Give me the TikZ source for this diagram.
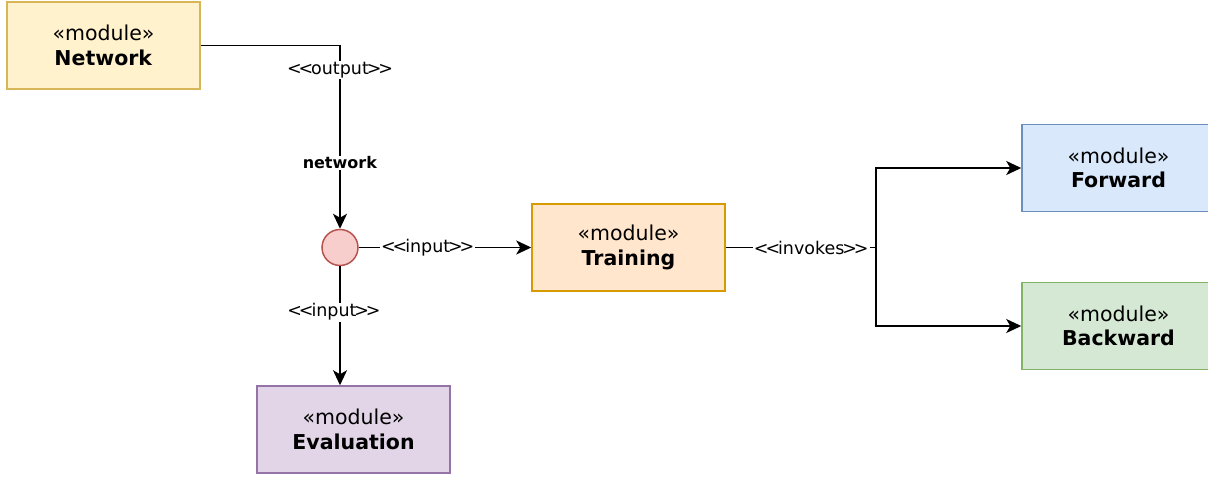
\documentclass[tikz,border=0pt]{standalone}
\usepackage{fontspec}
\setmainfont{DejaVu Sans}
\usetikzlibrary{arrows.meta}

\definecolor{netfill}{HTML}{FFF2CC}\definecolor{netdraw}{HTML}{D6B656}
\definecolor{trnfill}{HTML}{FFE6CC}\definecolor{trndraw}{HTML}{D79B00}
\definecolor{evlfill}{HTML}{E1D5E7}\definecolor{evldraw}{HTML}{9673A6}
\definecolor{fwdfill}{HTML}{DAE8FC}\definecolor{fwddraw}{HTML}{6C8EBF}
\definecolor{bwdfill}{HTML}{D5E8D4}\definecolor{bwddraw}{HTML}{82B366}
\definecolor{jncfill}{HTML}{F8CECC}\definecolor{jncdraw}{HTML}{B85450}

% tightly set angle brackets for stereotype labels (no guillemet ligature)
\newcommand{\stereo}[1]{{<}\kern-0.18em{<}\kern-0.12em#1\kern-0.12em{>}\kern-0.18em{>}}

\tikzset{
  module/.style={draw, line width=1.5pt, minimum width=193pt, minimum height=87pt,
    inner sep=0pt, align=center, font=\fontsize{20.5}{24.5}\selectfont},
  junction/.style={circle, draw=jncdraw, fill=jncfill, line width=1.5pt,
    minimum size=36pt, inner sep=0pt},
  wire/.style={line width=1.8pt, draw=black},
  flow/.style={wire, -{Stealth[length=15pt, width=14pt, inset=4pt]}},
  lbl/.style={fill=white, inner sep=1pt, font=\fontsize{17.5}{20}\selectfont},
}

\begin{document}
\begin{tikzpicture}[x=1pt, y=-1pt]
  \useasboundingbox (0,0) rectangle (1208,477);
  \clip (0,0) rectangle (1208,477);

  % modules
  \node[module, draw=netdraw, fill=netfill] (net) at (103.5,45.5) {«module»\\\textbf{Network}};
  \node[module, draw=trndraw, fill=trnfill] (trn) at (628.5,247.5) {«module»\\\textbf{Training}};
  \node[module, draw=evldraw, fill=evlfill] (evl) at (353.5,429.5) {«module»\\\textbf{Evaluation}};
  \node[module, draw=fwddraw, fill=fwdfill] (fwd) at (1118.5,168) {«module»\\\textbf{Forward}};
  \node[module, draw=bwddraw, fill=bwdfill] (bwd) at (1118.5,326) {«module»\\\textbf{Backward}};

  % junction point
  \node[junction] (jnc) at (340,247.5) {};

  % network output to the junction
  \draw[flow] (net.east) -| (jnc.north)
    node[lbl, pos=0.568] {\stereo{output}}
    node[lbl, pos=0.82, font=\fontsize{16}{18}\selectfont] {\textbf{network}};

  % junction feeds training and evaluation
  \draw[flow] (jnc.east) -- node[lbl, pos=0.4] {\stereo{input}} (trn.west);
  \draw[flow] (jnc.south) -- node[lbl, pos=0.385, xshift=-6pt] {\stereo{input}} (jnc.south |- evl.north);

  % training invokes forward and backward
  \coordinate (split) at ([xshift=150pt]trn.east);
  \draw[wire] (trn.east) -- node[lbl, pos=0.57] {\stereo{invokes}} (split);
  \draw[flow] (split) |- (fwd.west);
  \draw[flow] (split) |- (bwd.west);
\end{tikzpicture}
\end{document}
